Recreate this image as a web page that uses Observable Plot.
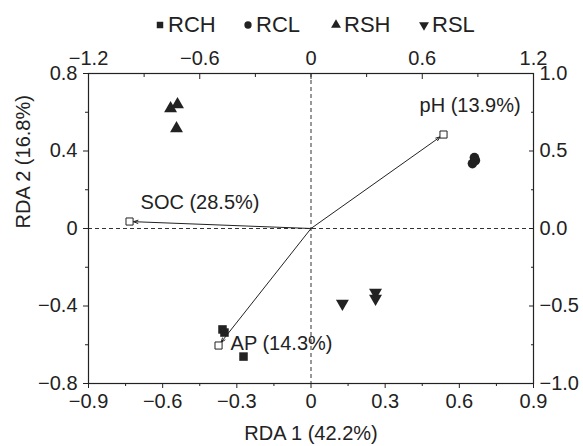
<!DOCTYPE html>
<html><head><meta charset="utf-8">
<script src="https://cdn.jsdelivr.net/npm/d3@7"></script>
<script src="https://cdn.jsdelivr.net/npm/@observablehq/plot@0.6"></script>
<style>
body{margin:0;background:#fff;font-family:"Liberation Sans",Arial,sans-serif;color:#222}
#legend{height:40px;box-sizing:border-box;padding-left:155px;padding-top:9px;display:flex;align-items:center;font-size:22px}
#legend .item{display:flex;align-items:center;gap:3px;width:88px;flex-shrink:0}
#legend svg{overflow:visible}
</style></head><body>
<div id="legend"></div>
<div id="chart"></div>
<script>
// ---- data ----
const groups = ["RCH", "RCL", "RSH", "RSL"];
const rchX = [-0.358, -0.350, -0.273];
const rchY = [-0.521, -0.537, -0.661];
const rclX = [0.661, 0.653, 0.665];
const rclY = [0.366, 0.335, 0.351];
const rshX = [-0.568, -0.540, -0.544];
const rshY = [0.619, 0.640, 0.516];
const rslX = [0.127, 0.261, 0.261];
const rslY = [-0.387, -0.330, -0.361];

const envLabels = ["SOC (28.5%)", "AP (14.3%)", "pH (13.9%)"];
const envX = [-0.734, -0.374, 0.536];
const envY = [0.036, -0.604, 0.485];

const bottomTicks = [-0.9, -0.6, -0.3, 0, 0.3, 0.6, 0.9];
const bottomLabels = ["−0.9", "−0.6", "−0.3", "0", "0.3", "0.6", "0.9"];
const bottomMinor = [-0.75, -0.45, -0.15, 0.15, 0.45, 0.75];
const leftTicks = [-0.8, -0.4, 0, 0.4, 0.8];
const leftLabels = ["−0.8", "−0.4", "0", "0.4", "0.8"];
const leftMinor = [-0.6, -0.2, 0.2, 0.6];
const topTicks = [-1.2, -0.6, 0, 0.6, 1.2];
const topLabels = ["−1.2", "−0.6", "0", "0.6", "1.2"];
const topMinor = [-0.9, -0.3, 0.3, 0.9];
const rightTicks = [-1.0, -0.5, 0, 0.5, 1.0];
const rightLabels = ["−1.0", "−0.5", "0.0", "0.5", "1.0"];
const rightMinor = [-0.75, -0.25, 0.25, 0.75];

const xTitle = "RDA 1 (42.2%)";
const yTitle = "RDA 2 (16.8%)";

// ---- build ----
const ink = "#222";
const topK = 0.9 / 1.2, rightK = 0.8 / 1.0;
const mk = (xs, ys) => xs.map((x, i) => ({x, y: ys[i]}));
const env = envX.map((x, i) => ({x, y: envY[i], label: envLabels[i]}));
const fmt = (vals, labs, k = 1) => { const m = new Map(vals.map((v, i) => [v * k, labs[i]])); return d => m.get(d); };
const labelNudge = [[11, -19], [12, -2], [-24, -29]];

const symbolDefs = [
  {sym: "square", rot: 0},
  {sym: "circle", rot: 0},
  {sym: "triangle", rot: 0},
  {sym: "triangle", rot: 180}
];
const groupData = [mk(rchX, rchY), mk(rclX, rclY), mk(rshX, rshY), mk(rslX, rslY)];

const chart = Plot.plot({
  width: 583, height: 406,
  marginTop: 33, marginBottom: 63, marginLeft: 88, marginRight: 50,
  x: {domain: [-0.9, 0.9]},
  y: {domain: [-0.8, 0.8]},
  style: {fontFamily: "Liberation Sans, Arial, sans-serif", fontSize: "20px", color: ink, background: "#fff", overflow: "visible"},
  marks: [
    Plot.ruleX([0], {stroke: "#333", strokeDasharray: "4,3"}),
    Plot.ruleY([0], {stroke: "#333", strokeDasharray: "4,3"}),
    Plot.frame({stroke: ink, strokeWidth: 1.2}),
    // bottom axis
    Plot.axisX({anchor: "bottom", ticks: bottomTicks, tickSize: 5, tickPadding: 5, tickFormat: fmt(bottomTicks, bottomLabels), label: null}),
    Plot.axisX({anchor: "bottom", ticks: bottomMinor, tickSize: 3, fill: "none", label: null}),
    // left axis
    Plot.axisY({anchor: "left", ticks: leftTicks, tickSize: 5, tickPadding: 6, tickFormat: fmt(leftTicks, leftLabels), label: null}),
    Plot.axisY({anchor: "left", ticks: leftMinor, tickSize: 3, fill: "none", label: null}),
    // top axis
    Plot.axisX({anchor: "top", ticks: topTicks.map(v => v * topK), tickSize: 0, tickPadding: 9, tickFormat: fmt(topTicks, topLabels, topK), label: null}),
    Plot.axisX({anchor: "top", ticks: topTicks.map(v => v * topK), tickSize: -5, fill: "none", label: null}),
    Plot.axisX({anchor: "top", ticks: topMinor.map(v => v * topK), tickSize: -3, fill: "none", label: null}),
    // right axis
    Plot.axisY({anchor: "right", ticks: rightTicks.map(v => v * rightK), tickSize: 0, tickPadding: 6, tickFormat: fmt(rightTicks, rightLabels, rightK), label: null}),
    Plot.axisY({anchor: "right", ticks: rightTicks.map(v => v * rightK), tickSize: -5, fill: "none", label: null}),
    Plot.axisY({anchor: "right", ticks: rightMinor.map(v => v * rightK), tickSize: -3, fill: "none", label: null}),
    // titles
    Plot.text([xTitle], {frameAnchor: "bottom", dy: 50, lineAnchor: "middle", fill: ink}),
    Plot.text([yTitle], {frameAnchor: "left", dx: -65, rotate: -90, lineAnchor: "middle", fill: ink}),
    // env arrows
    Plot.arrow(env, {x1: () => 0, y1: () => 0, x2: "x", y2: "y", stroke: ink, strokeWidth: 1, headLength: 7, headAngle: 40, insetEnd: 4}),
    Plot.dot(env, {x: "x", y: "y", symbol: "square", r: 4, fill: "white", stroke: ink, strokeWidth: 1}),
    ...env.map((d, i) => Plot.text([d], {x: "x", y: "y", text: "label", textAnchor: "start", dx: labelNudge[i][0], dy: labelNudge[i][1], fill: ink})),
    // samples
    ...groupData.map((data, i) => Plot.dot(data, {x: "x", y: "y", symbol: symbolDefs[i].sym, rotate: symbolDefs[i].rot, r: 4.8, fill: ink, stroke: "none"}))
  ]
});
document.getElementById("chart").appendChild(chart);

// legend
const legend = d3.select("#legend");
const d3sym = {square: d3.symbolSquare, circle: d3.symbolCircle, triangle: d3.symbolTriangle};
groups.forEach((g, i) => {
  const item = legend.append("div").attr("class", "item");
  const svg = item.append("svg").attr("width", 10).attr("height", 10);
  svg.append("path")
    .attr("d", d3.symbol(d3sym[symbolDefs[i].sym], 42)())
    .attr("transform", `translate(5,5) rotate(${symbolDefs[i].rot})`)
    .attr("fill", ink);
  item.append("span").text(g);
});
</script>
</body></html>
